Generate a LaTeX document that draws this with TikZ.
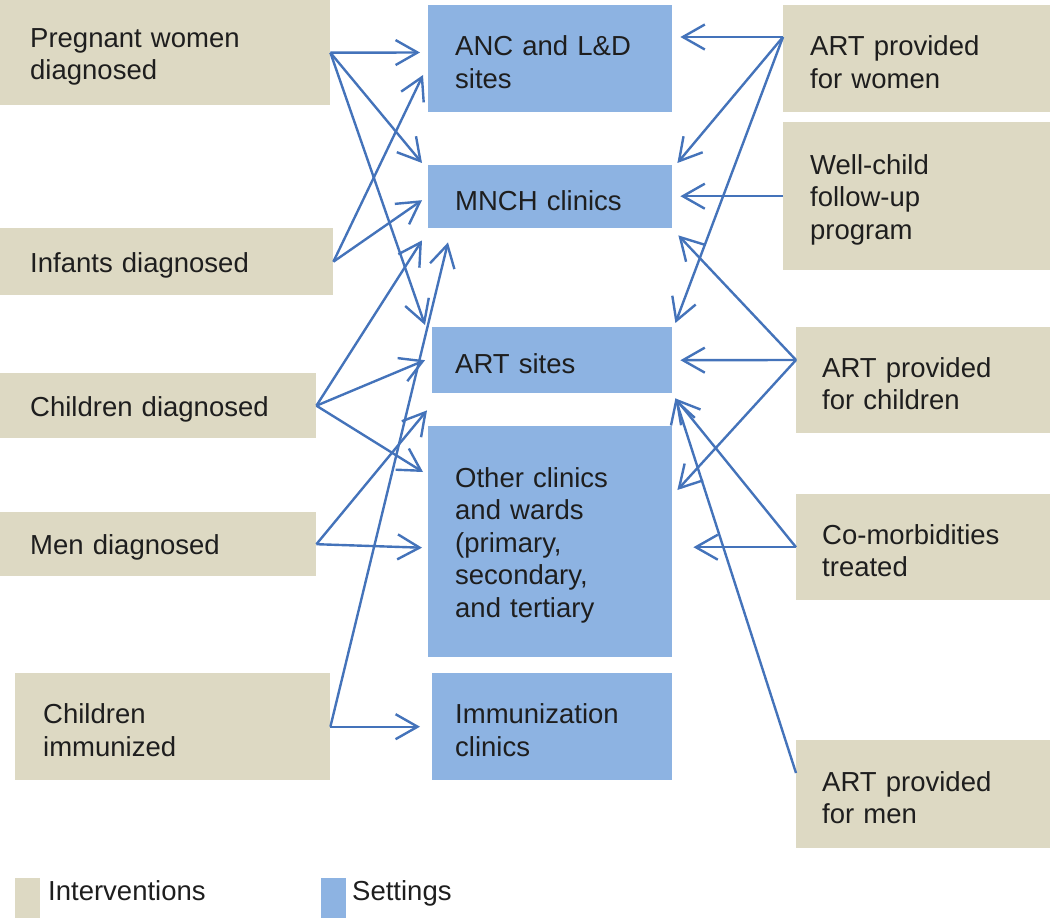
\documentclass[tikz,border=0pt]{standalone}
\usepackage{fontspec}
\setmainfont{Liberation Sans}
\usetikzlibrary{arrows.meta}
\definecolor{tanbg}{HTML}{DDD9C3}
\definecolor{setblue}{HTML}{8DB3E2}
\definecolor{arr}{HTML}{4473BA}
\definecolor{txt}{HTML}{1E1E1E}
\begin{document}
\begin{tikzpicture}[x=1pt,y=-1pt,
  box/.style={anchor=north west, inner ysep=0pt, align=left, text=txt, font=\fontsize{27.5}{32.5}\selectfont, execute at begin node={\rule{0pt}{27pt}}},
  ibox/.style={box, fill=tanbg},
  sbox/.style={box, fill=setblue},
  link/.style={draw=arr, line width=2.4pt, -{Straight Barb[length=22pt,width=25pt]}},
  legsq/.style={anchor=north west, inner sep=0pt, minimum width=25pt, minimum height=40pt},
  legtxt/.style={anchor=base west, inner sep=0pt, text=txt, font=\fontsize{27.5}{32.5}\selectfont}
]
\useasboundingbox (0,0) rectangle (1050,920);

% interventions (left)
\node[ibox, inner xsep=30pt, minimum width=330pt, minimum height=105pt, text width=270pt] (pw) at (0,0) {Pregnant women\\diagnosed};
\node[ibox, inner xsep=30pt, minimum width=333pt, minimum height=67pt, text width=273pt] (inf) at (0,228) {Infants diagnosed};
\node[ibox, inner xsep=30pt, minimum width=316pt, minimum height=65pt, text width=256pt] (cd) at (0,373) {Children diagnosed};
\node[ibox, inner xsep=30pt, minimum width=316pt, minimum height=64pt, text width=256pt] (md) at (0,512) {Men diagnosed};
\node[ibox, inner xsep=28pt, minimum width=315pt, minimum height=107pt, text width=259pt] (ci) at (15,673) {Children\\immunized};

% settings (centre)
\node[sbox, inner xsep=27pt, minimum width=244pt, minimum height=107pt, text width=190pt] (anc) at (428,5) {ANC and L\&D\\sites};
\node[sbox, inner xsep=27pt, minimum width=244pt, minimum height=63pt, text width=190pt] (mnch) at (428,165) {MNCH clinics};
\node[sbox, inner xsep=23pt, minimum width=240pt, minimum height=66pt, text width=194pt] (art) at (432,327) {ART sites};
\node[sbox, inner xsep=27pt, minimum width=244pt, minimum height=231pt, text width=190pt] (oth) at (428,426) {Other clinics\\and wards\\(primary,\\secondary,\\and tertiary};
\node[sbox, inner xsep=23pt, minimum width=240pt, minimum height=107pt, text width=194pt] (imm) at (432,673) {Immunization\\clinics};

% interventions (right)
\node[ibox, inner xsep=27pt, minimum width=267pt, minimum height=107pt, text width=213pt] (aw) at (783,5) {ART provided\\for women};
\node[ibox, inner xsep=27pt, minimum width=267pt, minimum height=148pt, text width=213pt] (wc) at (783,122) {Well-child\\follow-up\\program};
\node[ibox, inner xsep=26pt, minimum width=254pt, minimum height=106pt, text width=202pt] (ac) at (796,327) {ART provided\\for children};
\node[ibox, inner xsep=26pt, minimum width=254pt, minimum height=106pt, text width=202pt] (cm) at (796,494) {Co-morbidities\\treated};
\node[ibox, inner xsep=26pt, minimum width=254pt, minimum height=108pt, text width=202pt] (am) at (796,740) {ART provided\\for men};

% legend
\node[legsq, fill=tanbg] (lg1) at (15,878) {};
\node[legtxt] (lt1) at (48,900) {Interventions};
\node[legsq, fill=setblue] (lg2) at (321,878) {};
\node[legtxt] (lt2) at (352,900) {Settings};

% origins on the right
\coordinate (awo) at ([yshift=-32pt]aw.north west);
\coordinate (aco) at ([yshift=-33pt]ac.north west);
\coordinate (amo) at ([yshift=-33pt]am.north west);

% left connectors
\draw[link] (pw.east) -- ([xshift=-8pt,yshift=-47.5pt]anc.north west);
\draw[link] (pw.east) -- ([xshift=-6pt,yshift=2pt]mnch.north west);
\draw[link] (pw.east) -- ([xshift=-7pt,yshift=2pt]art.north west);
\draw[link] (inf.east) -- ([xshift=-5pt,yshift=-70pt]anc.north west);
\draw[link] (inf.east) -- ([xshift=-6pt,yshift=-3.5pt]mnch.west);
\draw[link] (cd.east) -- ([xshift=-6pt,yshift=-12pt]mnch.south west);
\draw[link] (cd.east) -- ([xshift=-7pt]art.west);
\draw[link] (cd.east) -- ([xshift=-5pt,yshift=-46pt]oth.north west);
\draw[link] (md.east) -- ([xshift=-5pt,yshift=-17pt]art.south west);
\draw[link] (md.east) -- ([xshift=-6pt,yshift=-6pt]oth.west);
\draw[link] (ci.east) -- ([xshift=-12pt]imm.west);
\draw[link] (ci.east) -- ([xshift=20pt,yshift=-14pt]mnch.south west);

% right connectors
\draw[link] (awo) -- ([xshift=8pt,yshift=-32pt]anc.north east);
\draw[link] (awo) -- ([xshift=5pt,yshift=2pt]mnch.north east);
\draw[link] (awo) -- ([xshift=3pt,yshift=4pt]art.north east);
\draw[link] (wc.west) -- ([xshift=8pt,yshift=0.5pt]mnch.east);
\draw[link] (aco) -- ([xshift=6pt,yshift=-7pt]mnch.south east);
\draw[link] (aco) -- ([xshift=8pt]art.east);
\draw[link] (aco) -- ([xshift=5pt,yshift=-64pt]oth.north east);
\draw[link] (cm.west) -- ([xshift=21pt,yshift=-5.5pt]oth.east);
\draw[link] (cm.west) -- ([xshift=3pt,yshift=-5pt]art.south east);
\draw[link] (amo) -- ([xshift=3pt,yshift=-5pt]art.south east);
\end{tikzpicture}
\end{document}
